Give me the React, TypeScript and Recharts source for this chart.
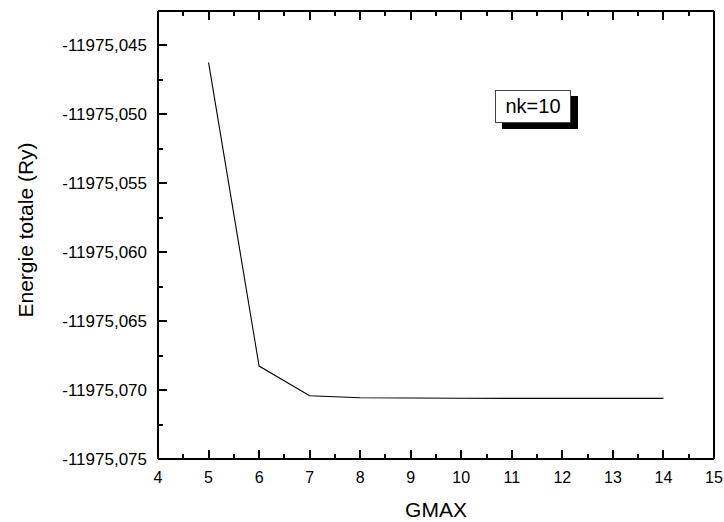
import { LineChart, Line, XAxis, YAxis } from "recharts";

// GMAX convergence, nk=10
const gmax = [5, 6, 7, 8, 9, 10, 11, 12, 13, 14];
const energy = [
  -11975.04623, -11975.06826, -11975.07041, -11975.07056, -11975.07058,
  -11975.07059, -11975.0706, -11975.0706, -11975.0706, -11975.0706,
];

const xMajor = [4, 5, 6, 7, 8, 9, 10, 11, 12, 13, 14, 15];
const xMinor = [4.5, 5.5, 6.5, 7.5, 8.5, 9.5, 10.5, 11.5, 12.5, 13.5, 14.5];
const yMajor = [
  -11975.075, -11975.07, -11975.065, -11975.06, -11975.055, -11975.05, -11975.045,
];
const yMinor = [
  -11975.0725, -11975.0675, -11975.0625, -11975.0575, -11975.0525, -11975.0475,
];

const data = gmax.map((g, i) => ({ gmax: g, energy: energy[i] }));

const FONT = "'Liberation Sans', Arial, sans-serif";
const MAJOR = 9;
const MINOR = 5;
const TW = 2; // tick thickness

const fmtY = (v: number) => v.toFixed(3).replace(".", ",");

// inward tick marks, snapped to whole pixels so they stay solid black
const makeXTick = (side: "bottom" | "top") => (props: any) => {
  const { x, y, payload } = props;
  const major = xMajor.includes(payload.value);
  const len = major ? MAJOR : MINOR;
  const px = Math.round(x) - TW / 2;
  const top = side === "bottom" ? Math.round(y) - len : Math.round(y);
  return (
    <g>
      <rect x={px} y={top} width={TW} height={len} fill="#000" shapeRendering="crispEdges" />
      {side === "bottom" && major && (
        <text x={x} y={y + 24} textAnchor="middle" fontSize={16} fontFamily={FONT} fill="#000">
          {payload.value}
        </text>
      )}
    </g>
  );
};

const makeYTick = (side: "left" | "right") => (props: any) => {
  const { x, y, payload } = props;
  const major = yMajor.includes(payload.value);
  const len = major ? MAJOR : MINOR;
  const py = Math.round(y) - TW / 2;
  const left = side === "left" ? Math.round(x) : Math.round(x) - len;
  return (
    <g>
      <rect x={left} y={py} width={len} height={TW} fill="#000" shapeRendering="crispEdges" />
      {side === "left" && major && (
        <text x={x - 11} y={y} textAnchor="end" dominantBaseline="central" fontSize={17} fontFamily={FONT} fill="#000">
          {fmtY(payload.value)}
        </text>
      )}
    </g>
  );
};

export default function App() {
  const xTicks = [...xMajor, ...xMinor];
  const yTicks = [...yMajor, ...yMinor];
  const axisLine = { stroke: "#000", strokeWidth: 2 };
  return (
    <div style={{ position: "absolute", left: 0, top: 0, width: 724, height: 522, background: "#fff" }}>
      <LineChart width={724} height={522} data={data} margin={{ top: 10, right: 9, bottom: 62, left: 157 }}>
        <XAxis
          xAxisId="b"
          dataKey="gmax"
          type="number"
          domain={[4, 15]}
          ticks={xTicks}
          interval={0}
          height={1}
          tickSize={0}
          tickMargin={0}
          tickLine={false}
          axisLine={axisLine}
          tick={makeXTick("bottom")}
        />
        <XAxis
          xAxisId="t"
          orientation="top"
          dataKey="gmax"
          type="number"
          domain={[4, 15]}
          ticks={xTicks}
          interval={0}
          height={1}
          tickSize={0}
          tickMargin={0}
          tickLine={false}
          axisLine={axisLine}
          tick={makeXTick("top")}
        />
        <YAxis
          yAxisId="l"
          type="number"
          domain={[-11975.075, -11975.0425]}
          ticks={yTicks}
          interval={0}
          width={1}
          tickSize={0}
          tickMargin={0}
          tickLine={false}
          axisLine={axisLine}
          tick={makeYTick("left")}
        />
        <YAxis
          yAxisId="r"
          orientation="right"
          type="number"
          domain={[-11975.075, -11975.0425]}
          ticks={yTicks}
          interval={0}
          width={1}
          tickSize={0}
          tickMargin={0}
          tickLine={false}
          axisLine={axisLine}
          tick={makeYTick("right")}
        />
        <Line
          xAxisId="b"
          yAxisId="l"
          type="linear"
          dataKey="energy"
          stroke="#000"
          strokeWidth={1.1}
          dot={false}
          isAnimationActive={false}
        />
        <text x={436} y={517} textAnchor="middle" fontSize={21} fontFamily={FONT} fill="#000">
          GMAX
        </text>
        <text
          x={33}
          y={230}
          textAnchor="middle"
          fontSize={21}
          fontFamily={FONT}
          fill="#000"
          transform="rotate(-90 33 230)"
        >
          Energie totale (Ry)
        </text>
      </LineChart>
      <div
        style={{
          position: "absolute",
          left: 495,
          top: 90,
          width: 74,
          height: 31,
          border: "1px solid #444",
          background: "#fff",
          boxShadow: "7px 6px 0 #000",
          display: "flex",
          alignItems: "center",
          justifyContent: "center",
          fontFamily: FONT,
          fontSize: 20,
          color: "#000",
        }}
      >
        nk=10
      </div>
    </div>
  );
}
